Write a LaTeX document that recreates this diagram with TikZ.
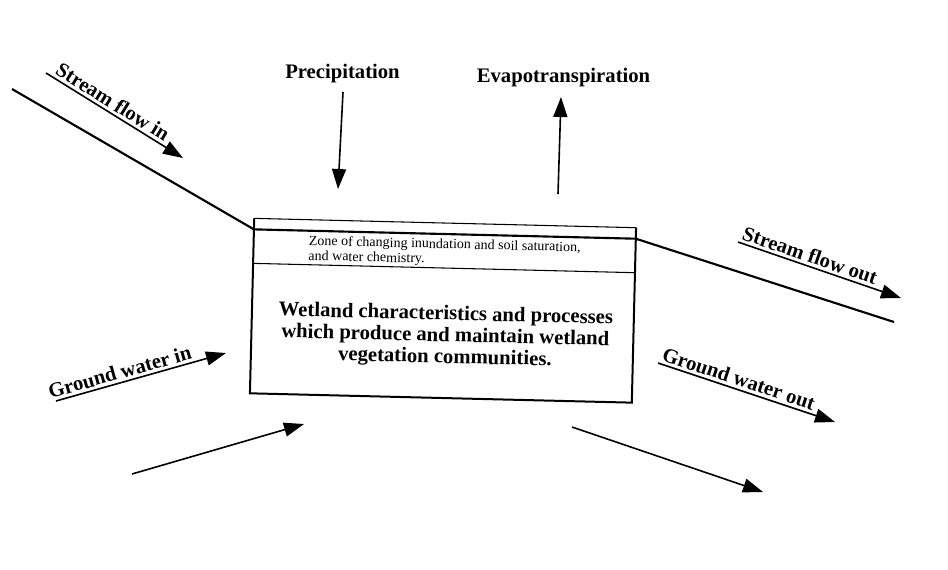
\documentclass[tikz,border=0pt]{standalone}
\usepackage{fontspec}
\setmainfont{Liberation Serif}
\usetikzlibrary{arrows.meta}
\begin{document}
\begin{tikzpicture}[x=0.75pt,y=-0.75pt,
  flow/.style={line width=1.2pt,-{Triangle[length=15pt,width=10.5pt]}},
  lbl/.style={font=\fontsize{15.5}{17}\selectfont\bfseries, inner sep=1pt},
  stream/.style={line width=1.6pt, line join=miter},
  frame/.style={line width=1.5pt, line join=miter},
  thinline/.style={line width=0.8pt},
  zonetext/.style={font=\fontsize{10.5}{11.3}\selectfont, align=left, inner sep=0pt},
  maintext/.style={font=\fontsize{15.5}{16.2}\selectfont\bfseries, align=center, inner sep=0pt}]
\useasboundingbox[fill=white] (0,0) rectangle (948,569);

% wetland box, slightly tilted
\begin{scope}[shift={(443,310.5)}, rotate=-1.4, transform shape]
  \draw[thinline] (-191,-87.5) -- (191,-87.5);
  \draw[frame] (-191,-87.5) -- (-191,87.5) -- (191,87.5) -- (191,-87.5);
  \draw[thinline] (-191,-42.5) -- (191,-42.5);
  \coordinate (sl) at (-191,-76.5);
  \coordinate (sr) at (191,-76.5);
  \node[zonetext, anchor=west] (zone) at (-136,-58)
    {Zone of changing inundation and soil saturation,\\and water chemistry.};
  \node[maintext] (main) at (3,26)
    {Wetland characteristics and processes\\which produce and maintain wetland\\vegetation communities.};
\end{scope}

% stream channel passing through the box
\coordinate (sin) at (12,89);
\coordinate (sout) at (894,322);
\draw[stream] (sin) -- (sl) -- (sr) -- (sout);

% top labels
\node[lbl, anchor=base] (precip) at (342.5,78) {Precipitation};
\node[lbl, anchor=base] (evap) at (563.5,82) {Evapotranspiration};
\coordinate (p1) at (343,92);  \coordinate (p2) at (338,189);
\coordinate (e1) at (558,194); \coordinate (e2) at (561,97);
\draw[flow] (p1) -- (p2);
\draw[flow] (e1) -- (e2);

% labelled flow arrows
\coordinate (a1) at (46,73);   \coordinate (a2) at (183,158);
\draw[flow] (a1) -- node[lbl, pos=0, anchor=south west, sloped, xshift=4pt, yshift=1pt] (sfin) {Stream flow in} (a2);

\coordinate (b1) at (738,242); \coordinate (b2) at (901,298);
\draw[flow] (b1) -- node[lbl, pos=0, anchor=south west, sloped, yshift=1pt] (sfout) {Stream flow out} (b2);

\coordinate (c1) at (56,401);  \coordinate (c2) at (226,353);
\draw[flow] (c1) -- node[lbl, pos=0, anchor=south west, sloped, xshift=-5pt, yshift=1pt] (gwin) {Ground water in} (c2);

\coordinate (d1) at (658,363); \coordinate (d2) at (835,422);
\draw[flow] (d1) -- node[lbl, pos=0, anchor=south west, sloped, yshift=1pt] (gwout) {Ground water out} (d2);

% unlabelled ground water arrows
\coordinate (f1) at (132,474); \coordinate (f2) at (304,424);
\draw[flow] (f1) -- (f2);
\coordinate (g1) at (572,427); \coordinate (g2) at (763,492);
\draw[flow] (g1) -- (g2);
\end{tikzpicture}
\end{document}
